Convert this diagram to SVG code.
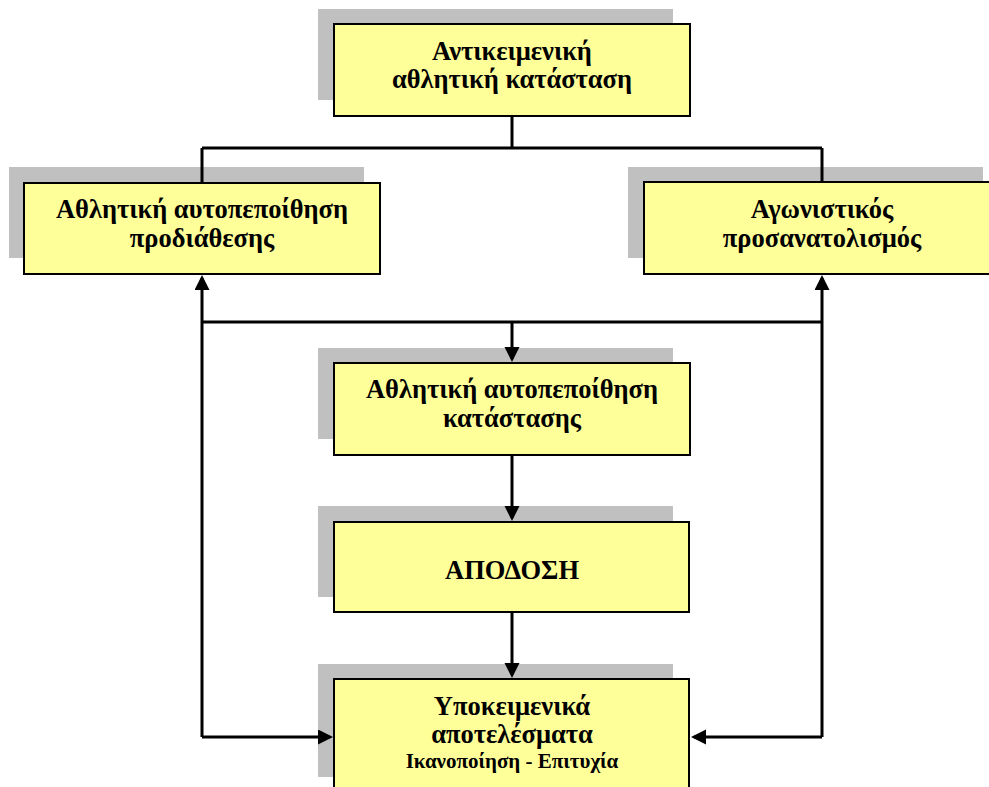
<svg xmlns="http://www.w3.org/2000/svg" width="989" height="787" viewBox="0 0 989 787">
<style>
.shadow{fill:#C0C0C0;stroke:none}
.box{fill:#FFFF99;stroke:#000;stroke-width:2}
.t{font-family:"Liberation Serif","Times New Roman",serif;font-weight:bold;font-size:26.5px;fill:#000;text-anchor:middle}
.s{font-size:21px}
.c{fill:none;stroke:#000;stroke-width:3}
</style>
<defs>
<marker id="ah" markerUnits="userSpaceOnUse" markerWidth="16" markerHeight="16" refX="12" refY="7.5" orient="auto">
<path d="M0,0 L15,7.5 L0,15 z" fill="#000"/>
</marker>
</defs>
<rect width="989" height="787" fill="#fff"/>
<g id="node-top">
<rect class="shadow" x="318" y="9" width="355" height="91"/>
<rect class="box" x="334" y="24" width="356" height="92"/>
<text class="t" x="512" y="60">Αντικειμενική</text>
<text class="t" x="512" y="88">αθλητική κατάσταση</text>
</g>
<g id="node-left">
<rect class="shadow" x="9" y="167" width="355" height="91"/>
<rect class="box" x="24" y="183" width="356" height="91"/>
<text class="t" x="202" y="218">Αθλητική αυτοπεποίθηση</text>
<text class="t" x="202" y="247">προδιάθεσης</text>
</g>
<g id="node-right">
<rect class="shadow" x="628" y="167" width="355" height="91"/>
<rect class="box" x="644" y="182" width="356" height="92"/>
<text class="t" x="822" y="218">Αγωνιστικός</text>
<text class="t" x="822" y="247">προσανατολισμός</text>
</g>
<g id="node-state">
<rect class="shadow" x="318" y="348" width="355" height="91"/>
<rect class="box" x="334" y="363" width="356" height="92"/>
<text class="t" x="512" y="398">Αθλητική αυτοπεποίθηση</text>
<text class="t" x="512" y="427">κατάστασης</text>
</g>
<g id="node-performance">
<rect class="shadow" x="318" y="506" width="355" height="91"/>
<rect class="box" x="334" y="522" width="355" height="90"/>
<text class="t" x="512" y="579">ΑΠΟΔΟΣΗ</text>
</g>
<g id="node-outcomes">
<rect class="shadow" x="318" y="664" width="355" height="113"/>
<rect class="box" x="334" y="679" width="355" height="113"/>
<text class="t" x="512" y="715">Υποκειμενικά</text>
<text class="t" x="512" y="743">αποτελέσματα</text>
<text class="t s" x="512" y="768">Ικανοποίηση - Επιτυχία</text>
</g>
<g id="connectors">
<path class="c" d="M512,117 V148 M202,148 H822 M202,148 V182 M822,148 V181 M202,322 H822"/>
<path class="c" d="M512,322 V359" marker-end="url(#ah)"/>
<path class="c" d="M202,737 V278" marker-end="url(#ah)"/>
<path class="c" d="M822,737 V278" marker-end="url(#ah)"/>
<path class="c" d="M202,737 H330" marker-end="url(#ah)"/>
<path class="c" d="M822,737 H694" marker-end="url(#ah)"/>
<path class="c" d="M512,456 V518" marker-end="url(#ah)"/>
<path class="c" d="M512,613 V675" marker-end="url(#ah)"/>
</g>
</svg>
